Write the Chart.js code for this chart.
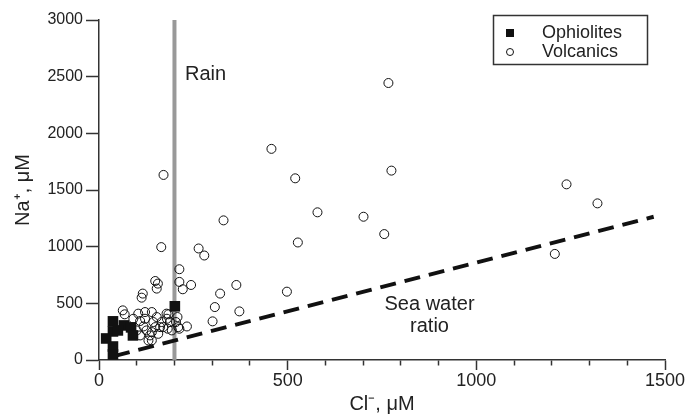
<!DOCTYPE html>
<html><head><meta charset="utf-8">
<script src="https://cdn.jsdelivr.net/npm/chart.js@4.4.1/dist/chart.umd.min.js"></script>
<style>html,body{margin:0;padding:0;background:#fff;}#wrap{width:686px;height:416px;}</style>
</head><body><div id="wrap"><canvas id="c" width="686" height="416"></canvas></div>
<script>
// ---- data ----
const seriesNames = ['Ophiolites', 'Volcanics'];
const volcanicsCl = [171, 457, 520, 775, 767, 330, 579, 701, 756, 165, 527, 264, 279, 213, 149, 156, 153, 213, 244, 222, 364, 321, 498, 307, 372, 301, 233, 213, 1239, 1321, 1208,
  116, 113, 63, 68, 91, 104, 122, 140, 109, 118, 126, 135, 109, 100, 131, 144, 149, 140, 153, 122, 162, 184, 180, 188, 182, 193, 208, 204, 210, 166, 157, 179, 170, 140];
const volcanicsNa = [1633, 1863, 1603, 1671, 2444, 1232, 1303, 1264, 1111, 996, 1037, 984, 922, 801, 697, 674, 630, 689, 662, 624, 662, 586, 603, 467, 429, 341, 296, 276, 1550, 1382, 936,
  586, 550, 438, 403, 364, 409, 423, 423, 344, 296, 261, 217, 217, 261, 172, 335, 290, 246, 379, 364, 290, 403, 364, 335, 276, 261, 379, 335, 290, 335, 231, 409, 290, 173];
const ophiolitesCl = [37, 37, 19, 37, 37, 66, 85, 90, 50, 201];
const ophiolitesNa = [341, 252, 190, 119, 49, 305, 288, 217, 261, 474];
const rainCl = [200, 200];
const rainNa = [0, 3000];
const seaWaterCl = [40, 1470];
const seaWaterNa = [34, 1264];
const xTickLabels = [0, 500, 1000, 1500];
const yTickLabels = [0, 500, 1000, 1500, 2000, 2500, 3000];
const xTitle = 'Cl\u207B, \u03BCM';
const yTitle = 'Na\u207A, \u03BCM';
const notes = [
  {text: 'Rain', cl: 228, na: 2520, align: 'left'},
  {text: 'Sea water', cl: 876, na: 491, align: 'center'},
  {text: 'ratio', cl: 876, na: 296, align: 'center'}
];

const FONT = "'Liberation Sans', Arial, sans-serif";
const toXY = (xs, ys) => xs.map((x, i) => ({x, y: ys[i]}));

const notesPlugin = {
  id: 'notes',
  afterDatasetsDraw(chart) {
    const ctx = chart.ctx, xs = chart.scales.x, ys = chart.scales.y;
    ctx.save();
    ctx.fillStyle = '#222';
    ctx.font = '20px ' + FONT;
    ctx.textBaseline = 'middle';
    notes.forEach(n => {
      ctx.textAlign = n.align;
      ctx.fillText(n.text, xs.getPixelForValue(n.cl), ys.getPixelForValue(n.na));
    });
    ctx.restore();
  }
};

const legendPlugin = {
  id: 'boxLegend',
  afterDraw(chart) {
    const ctx = chart.ctx;
    ctx.save();
    ctx.strokeStyle = '#333';
    ctx.lineWidth = 1.5;
    ctx.strokeRect(493.5, 15.5, 154, 49);
    ctx.font = '18px ' + FONT;
    ctx.fillStyle = '#222';
    ctx.textBaseline = 'middle';
    ctx.textAlign = 'left';
    const rows = [33, 52];
    chart.data.datasets.slice(0, 2).forEach((ds, i) => {
      const y = rows[i];
      if (ds.pointStyle === 'rect') {
        ctx.fillStyle = '#111';
        ctx.fillRect(506, y - 4, 8, 8);
      } else {
        ctx.strokeStyle = '#111';
        ctx.lineWidth = 1;
        ctx.beginPath(); ctx.arc(510, y, 3.5, 0, Math.PI * 2); ctx.stroke();
      }
      ctx.fillStyle = '#222';
      ctx.fillText(ds.label, 542, y);
    });
    ctx.restore();
  }
};

new Chart(document.getElementById('c'), {
  type: 'scatter',
  data: {
    datasets: [
      {label: seriesNames[0], data: toXY(ophiolitesCl, ophiolitesNa), pointStyle: 'rect', pointRadius: 7.5,
       backgroundColor: '#111', borderColor: '#111', borderWidth: 0},
      {label: seriesNames[1], data: toXY(volcanicsCl, volcanicsNa), pointStyle: 'circle', pointRadius: 4.5,
       backgroundColor: 'rgba(0,0,0,0)', borderColor: '#111', borderWidth: 1},
      {label: 'Sea water ratio', data: toXY(seaWaterCl, seaWaterNa), showLine: true, pointRadius: 0,
       borderColor: '#111', borderWidth: 4, borderDash: [16, 9], borderCapStyle: 'butt'},
      {label: 'Rain', data: toXY(rainCl, rainNa), showLine: true, pointRadius: 0,
       borderColor: '#999', borderWidth: 4}
    ]
  },
  options: {
    responsive: false,
    animation: false,
    devicePixelRatio: 1,
    layout: {padding: {top: 20, right: 21, left: 0, bottom: 0}},
    plugins: {legend: {display: false}, tooltip: {enabled: false}},
    scales: {
      x: {
        type: 'linear', min: 0, max: 1500,
        afterFit: s => { s.height = 56; },
        ticks: {stepSize: 100, color: '#222', font: {family: FONT, size: 18}, padding: 0, maxRotation: 0, autoSkip: false,
          callback: v => xTickLabels.includes(v) ? String(v) : ''},
        grid: {drawOnChartArea: false, drawTicks: true, tickLength: 10, tickColor: '#333', tickWidth: 1.5,
          tickBorderDash: c => (xTickLabels.includes(c.tick && c.tick.value) ? [] : [5, 30])},
        border: {color: '#333', width: 1.5},
        title: {display: true, text: xTitle, color: '#222', font: {family: FONT, size: 20}, padding: {top: 0, bottom: 0}}
      },
      y: {
        type: 'linear', min: 0, max: 3000,
        afterFit: s => { s.width = 99; },
        ticks: {stepSize: 500, color: '#222', font: {family: FONT, size: 16}, padding: 3,
          callback: v => yTickLabels.includes(v) ? String(v) : ''},
        grid: {drawOnChartArea: false, drawTicks: true, tickLength: 13, tickColor: '#333', tickWidth: 1.5},
        border: {color: '#333', width: 1.5},
        title: {display: true, text: yTitle, color: '#222', font: {family: FONT, size: 20}, padding: {top: 11, bottom: 0}}
      }
    }
  },
  plugins: [notesPlugin, legendPlugin]
});
</script></body></html>
